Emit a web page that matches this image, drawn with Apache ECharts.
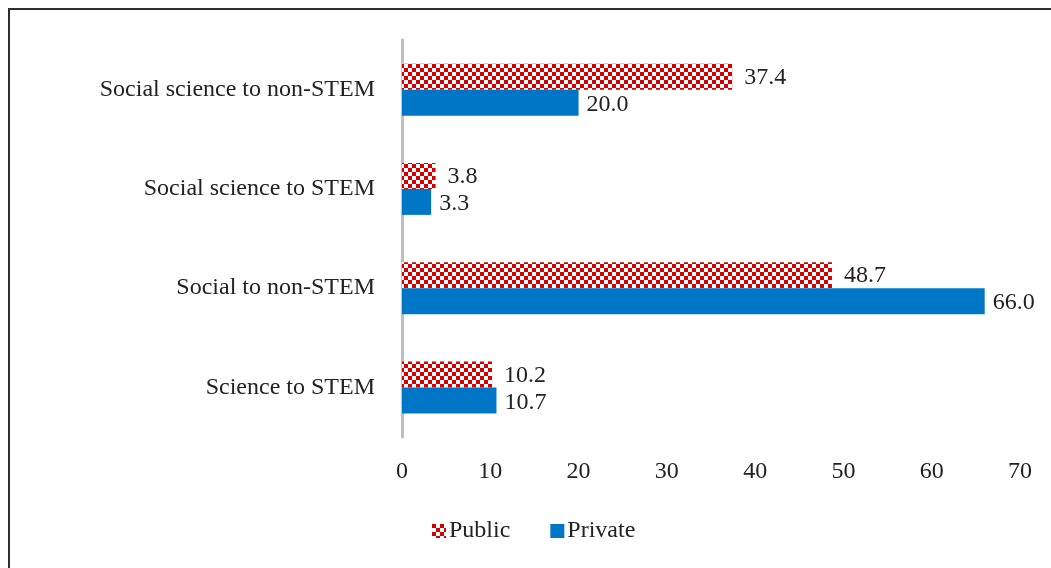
<!DOCTYPE html>
<html>
<head>
<meta charset="utf-8">
<script src="https://cdn.jsdelivr.net/npm/echarts@6/dist/echarts.min.js"></script>
<style>
  html, body { margin: 0; padding: 0; background: #fff; }
  #chart { width: 1051px; height: 568px; }
</style>
</head>
<body>
<div id="chart"></div>
<script>
// Categories listed bottom to top along the vertical axis
const categories = [
  'Science to STEM',
  'Social to non-STEM',
  'Social science to STEM',
  'Social science to non-STEM'
];
const publicValues = [10.2, 48.7, 3.8, 37.4];
const privateValues = [10.7, 66.0, 3.3, 20.0];
const xTicks = [0, 10, 20, 30, 40, 50, 60, 70];

// Red and white checkerboard fill for the Public series
function checkerPattern() {
  const c = document.createElement('canvas');
  const s = 4;
  c.width = s * 2;
  c.height = s * 2;
  const ctx = c.getContext('2d');
  ctx.fillStyle = '#ffffff';
  ctx.fillRect(0, 0, c.width, c.height);
  ctx.fillStyle = '#d40000';
  ctx.fillRect(0, 0, s, s);
  ctx.fillRect(s, s, s, s);
  return c;
}
const pattern = checkerPattern();

const font = '"Liberation Serif", "Times New Roman", serif';
const fs = 24;
const chart = echarts.init(document.getElementById('chart'));

chart.setOption({
  animation: false,
  backgroundColor: '#ffffff',
  textStyle: { fontFamily: font },
  graphic: [{
    type: 'rect',
    shape: { x: 9, y: 9, width: 1100, height: 600 },
    style: { fill: 'none', stroke: '#2e2e2e', lineWidth: 2 },
    silent: true,
    z: 10
  }],
  grid: { left: 402, right: 31, top: 40, bottom: 131, containLabel: false },
  legend: {
    bottom: 20,
    left: 427,
    itemWidth: 14,
    itemHeight: 14,
    itemGap: 40,
    icon: 'rect',
    textStyle: { fontFamily: font, fontSize: fs, color: '#222', padding: [0, 0, 0, -2] },
    data: ['Public', 'Private']
  },
  xAxis: {
    type: 'value',
    min: 0,
    max: 70,
    interval: 10,
    axisLine: { show: false },
    axisTick: { show: false },
    splitLine: { show: false },
    axisLabel: {
      margin: 23,
      fontFamily: font,
      fontSize: fs,
      color: '#222',
      formatter: v => (xTicks.indexOf(v) >= 0 ? String(v) : '')
    }
  },
  yAxis: {
    type: 'category',
    data: categories,
    axisLine: { show: true, lineStyle: { color: '#bfbfbf', width: 3 } },
    axisTick: { show: false },
    axisLabel: { margin: 27, fontFamily: font, fontSize: fs, color: '#222' }
  },
  series: [
    {
      name: 'Public',
      type: 'bar',
      data: publicValues,
      barWidth: 26,
      barGap: '0%',
      itemStyle: { color: { image: pattern, repeat: 'repeat' } },
      label: {
        show: true,
        position: 'right',
        distance: 12,
        offset: [0, 1],
        fontFamily: font,
        fontSize: fs,
        color: '#222',
        formatter: p => p.value.toFixed(1)
      }
    },
    {
      name: 'Private',
      type: 'bar',
      data: privateValues,
      barWidth: 26,
      barGap: '0%',
      itemStyle: { color: '#0077c6' },
      label: {
        show: true,
        position: 'right',
        distance: 8,
        offset: [0, 2],
        fontFamily: font,
        fontSize: fs,
        color: '#222',
        formatter: p => p.value.toFixed(1)
      }
    }
  ]
});
</script>
</body>
</html>
